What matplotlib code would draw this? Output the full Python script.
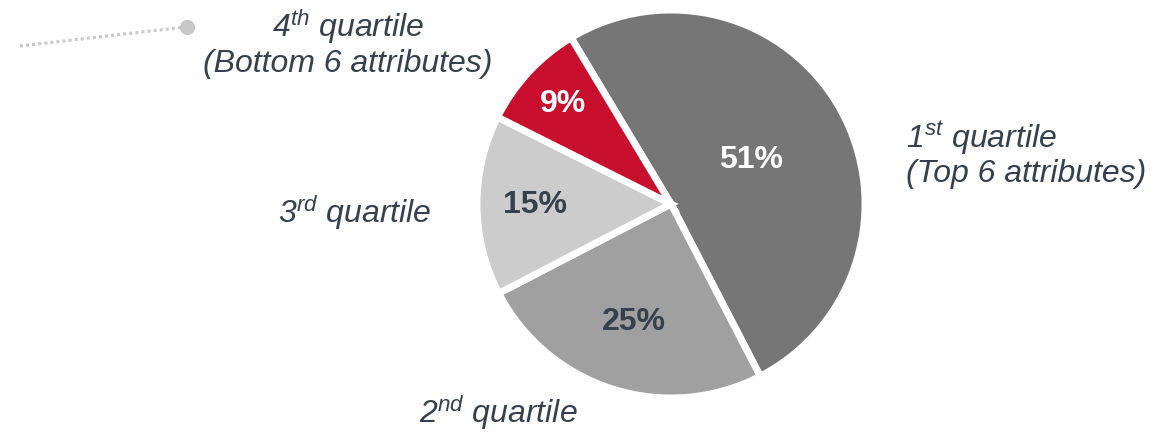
import numpy as np
import matplotlib
matplotlib.use("Agg")
import matplotlib.pyplot as plt

plt.rcParams["font.family"] = ["Liberation Sans", "DejaVu Sans"]
plt.rcParams["mathtext.fontset"] = "custom"
plt.rcParams["mathtext.it"] = "Liberation Sans:italic"
plt.rcParams["mathtext.rm"] = "Liberation Sans:italic"

# Share of importance by attribute quartile
quartiles = ["1st", "2nd", "3rd", "4th"]
shares = [51, 25, 15, 9]
pct_labels = ["51%", "25%", "15%", "9%"]

slice_colors = ["#767676", "#a0a0a0", "#cccccc", "#c8102e"]
pct_colors = ["white", "#36414d", "#36414d", "white"]
pct_radius = [0.47, 0.64, 0.70, 0.76]
explode = [0.02, 0, 0, 0]
TEXT = "#36414d"

W, H = 1166, 434
fig = plt.figure(figsize=(W / 100, H / 100), dpi=100)
ax = fig.add_axes([0, 0, 1, 1])

cx, cy, R = 671, H - 204, 194
wedges, _ = ax.pie(shares, colors=slice_colors, startangle=121,
                   counterclock=False, center=(cx, cy), radius=R,
                   explode=explode,
                   wedgeprops=dict(edgecolor="white", linewidth=5))
ax.set_xlim(0, W)
ax.set_ylim(0, H)
ax.set_aspect("equal")
ax.axis("off")

for w, lab, col, rf in zip(wedges, pct_labels, pct_colors, pct_radius):
    mid = np.deg2rad((w.theta1 + w.theta2) / 2)
    ax.text(cx + rf * R * np.cos(mid), cy + rf * R * np.sin(mid), lab,
            ha="center", va="center", fontsize=23, fontweight="bold",
            color=col)

lab_kw = dict(fontsize=23, style="italic", color=TEXT)
ax.text(906, H - 154, "1$^{st}$ quartile\n(Top 6 attributes)",
        ha="left", va="center", linespacing=1.1, **lab_kw)
ax.text(348, H - 43, "4$^{th}$ quartile\n(Bottom 6 attributes)",
        ha="center", va="center", multialignment="center",
        linespacing=1.1, **lab_kw)
ax.text(432, H - 213, "3$^{rd}$ quartile", ha="right", va="center", **lab_kw)
ax.text(498, H - 413, "2$^{nd}$ quartile", ha="center", va="center", **lab_kw)

# dotted leader ending in a dot
ax.plot([20, 186], [H - 46, H - 27], linestyle=(0, (1, 1)), color="#c8c8c8",
        linewidth=2.2)
ax.plot([187], [H - 27], "o", color="#c8c8c8", markersize=10)

fig.savefig("out.png", dpi=100)
